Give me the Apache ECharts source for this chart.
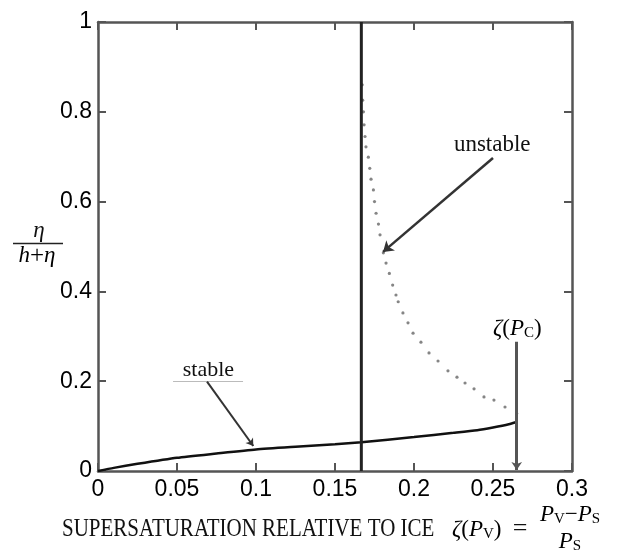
<!DOCTYPE html>
<html><head><meta charset="utf-8">
<script src="https://cdn.jsdelivr.net/npm/echarts@6/dist/echarts.min.js"></script>
<style>html,body{margin:0;padding:0;background:#fff}#c{width:617px;height:552px}</style>
</head><body><div id="c"></div>
<script>
// axis ranges
const xMin = 0, xMax = 0.3, xStep = 0.05;
const yMin = 0, yMax = 1, yStep = 0.2;

// stable branch (solid)
const stableCurve = [
  [0, 0], [0.01, 0.007], [0.025, 0.016], [0.05, 0.0295], [0.075, 0.039],
  [0.1, 0.048], [0.125, 0.054], [0.15, 0.0595], [0.1667, 0.064], [0.2, 0.0755],
  [0.225, 0.085], [0.24, 0.091], [0.25, 0.097], [0.26, 0.104], [0.265, 0.109]
];

// unstable branch (dotted)
const unstableDots = [
  [0.1672, 0.860], [0.1675, 0.826], [0.1680, 0.800], [0.1684, 0.771], [0.1690, 0.745],
  [0.1696, 0.722], [0.1711, 0.699], [0.1720, 0.674], [0.1728, 0.650], [0.1743, 0.626],
  [0.1750, 0.600], [0.1760, 0.574], [0.1775, 0.550], [0.1785, 0.526], [0.1806, 0.486],
  [0.1823, 0.463], [0.1844, 0.440], [0.1865, 0.414], [0.1886, 0.392], [0.1900, 0.377],
  [0.1930, 0.352], [0.1962, 0.330], [0.1994, 0.307], [0.2044, 0.287], [0.2095, 0.263],
  [0.2152, 0.245], [0.2215, 0.223], [0.2272, 0.209], [0.2323, 0.196], [0.2380, 0.183],
  [0.2443, 0.165], [0.2506, 0.158], [0.2576, 0.1425], [0.2650, 0.128]
];

// vertical threshold line
const thresholdX = 1 / 6;
const thresholdLine = [[thresholdX, 0], [thresholdX, 1]];

// annotation arrows (data coordinates)
const arrowUnstable = [[0.25, 0.697], [0.1804, 0.488]];
const arrowStable = [[0.069, 0.199], [0.0983, 0.0557]];
const arrowCritical = [[0.265, 0.288], [0.265, 0.002]];
const stableUnderline = [[0.0475, 0.199], [0.0918, 0.199]];

// annotation label anchors (data coordinates)
const labelStable = [0.0699, 0.2236];
const labelUnstable = [0.2495, 0.7256];
const labelCritical = [0.2654, 0.3163];

const SERIF = 'Liberation Serif';
const SANS = 'Liberation Sans';
const AX = '#555';

const chart = echarts.init(document.getElementById('c'), null, {renderer: 'canvas'});

const axisCommon = {
  type: 'value',
  axisLine: {show: true, onZero: false, lineStyle: {color: AX, width: 2.5}},
  axisTick: {show: true, inside: true, length: 8, lineStyle: {color: AX, width: 2}},
  splitLine: {show: false}
};

const richMath = {
  i: {fontFamily: SERIF, fontStyle: 'italic', fontSize: 23, color: '#111'},
  n: {fontFamily: SERIF, fontSize: 23, color: '#111'},
  s: {fontFamily: SERIF, fontSize: 15, color: '#111', verticalAlign: 'bottom'}
};

const option = {
  animation: false,
  backgroundColor: '#fff',
  grid: {left: 98, right: 45, top: 22, bottom: 81, containLabel: false, outerBoundsMode: 'none'},
  xAxis: [
    Object.assign({}, axisCommon, {
      position: 'bottom', min: xMin, max: xMax, interval: xStep,
      axisLabel: {color: '#000', fontSize: 23, fontFamily: SANS, margin: 7}
    }),
    Object.assign({}, axisCommon, {
      position: 'top', min: xMin, max: xMax, interval: xStep,
      axisLabel: {show: false}
    })
  ],
  yAxis: [
    Object.assign({}, axisCommon, {
      position: 'left', min: yMin, max: yMax, interval: yStep,
      axisLabel: {color: '#000', fontSize: 23, fontFamily: SANS, margin: 6}
    }),
    Object.assign({}, axisCommon, {
      position: 'right', min: yMin, max: yMax, interval: yStep,
      axisLabel: {show: false}
    })
  ],
  series: [
    {
      type: 'line', data: stableCurve, smooth: 0.2, showSymbol: false,
      lineStyle: {color: '#111', width: 2.5}, z: 3
    },
    {
      type: 'scatter', data: unstableDots, symbol: 'circle', symbolSize: 3.2,
      itemStyle: {color: '#666'}, z: 2
    },
    {
      type: 'line', data: thresholdLine, showSymbol: false,
      lineStyle: {color: '#222', width: 3}, z: 4
    },
    {
      type: 'lines', coordinateSystem: 'cartesian2d', z: 5,
      symbol: ['none', 'arrow'], symbolSize: 10,
      lineStyle: {color: '#333', width: 2.5, opacity: 1},
      data: [{coords: arrowUnstable}]
    },
    {
      type: 'lines', coordinateSystem: 'cartesian2d', z: 5,
      symbol: ['none', 'arrow'], symbolSize: 7,
      lineStyle: {color: '#333', width: 2, opacity: 1},
      data: [{coords: arrowStable}]
    },
    {
      type: 'lines', coordinateSystem: 'cartesian2d', z: 5,
      symbol: ['none', 'arrow'], symbolSize: 8,
      lineStyle: {color: '#555', width: 3, opacity: 1},
      data: [{coords: arrowCritical}]
    },
    {
      type: 'lines', coordinateSystem: 'cartesian2d', z: 1,
      symbol: ['none', 'none'],
      lineStyle: {color: '#bbb', width: 1, opacity: 1},
      data: [{coords: stableUnderline}]
    }
  ]
};

chart.setOption(option);

const pS = chart.convertToPixel({gridIndex: 0}, labelStable);
const pU = chart.convertToPixel({gridIndex: 0}, labelUnstable);
const pC = chart.convertToPixel({gridIndex: 0}, labelCritical);

chart.setOption({
  graphic: [
    // in-plot annotations
    {type: 'text', x: pS[0], y: pS[1], z: 10,
     style: {text: 'stable', fontFamily: SERIF, fontSize: 22, fill: '#111', align: 'center', verticalAlign: 'middle'}},
    {type: 'text', x: pU[0], y: pU[1], z: 10,
     style: {text: 'unstable', fontFamily: SERIF, fontSize: 23, fill: '#111', align: 'center', verticalAlign: 'middle'}},
    {type: 'text', x: pC[0], y: pC[1], z: 10,
     style: {text: '{i|ζ}{n|(}{i|P}{s|C}{n|)}', rich: richMath, align: 'center', verticalAlign: 'middle'}},
    // y-axis name: eta / (h + eta)
    {type: 'text', x: 39, y: 231, z: 10,
     style: {text: 'η', fontFamily: SERIF, fontStyle: 'italic', fontSize: 23, fill: '#111', align: 'center', verticalAlign: 'middle'}},
    {type: 'line', z: 10, shape: {x1: 13, y1: 243.5, x2: 63, y2: 243.5}, style: {stroke: '#222', lineWidth: 1.5}},
    {type: 'text', x: 37, y: 256, z: 10,
     style: {text: '{i|h}{p|+}{i|η}', rich: {
       i: {fontFamily: SERIF, fontStyle: 'italic', fontSize: 23, color: '#111'},
       p: {fontFamily: SERIF, fontSize: 25, color: '#111'}
     }, align: 'center', verticalAlign: 'middle'}},
    // x-axis name
    {type: 'text', x: 62, y: 530, z: 10, scaleY: 1.15,
     style: {text: 'SUPERSATURATION RELATIVE TO ICE', fontFamily: SERIF, fontSize: 21, fill: '#111', align: 'left', verticalAlign: 'middle'}},
    {type: 'text', x: 452, y: 530, z: 10,
     style: {text: '{i|ζ}{n|(}{i|P}{s|V}{n|)}', rich: richMath, align: 'left', verticalAlign: 'middle'}},
    {type: 'text', x: 520, y: 529, z: 10,
     style: {text: '=', fontFamily: SERIF, fontSize: 26, fill: '#111', align: 'center', verticalAlign: 'middle'}},
    {type: 'text', x: 570, y: 515, z: 10,
     style: {text: '{i|P}{s|V}{n|−}{i|P}{s|S}', rich: richMath, align: 'center', verticalAlign: 'middle'}},
    {type: 'text', x: 570, y: 542, z: 10,
     style: {text: '{i|P}{s|S}', rich: richMath, align: 'center', verticalAlign: 'middle'}}
  ]
});
</script>
</body></html>
